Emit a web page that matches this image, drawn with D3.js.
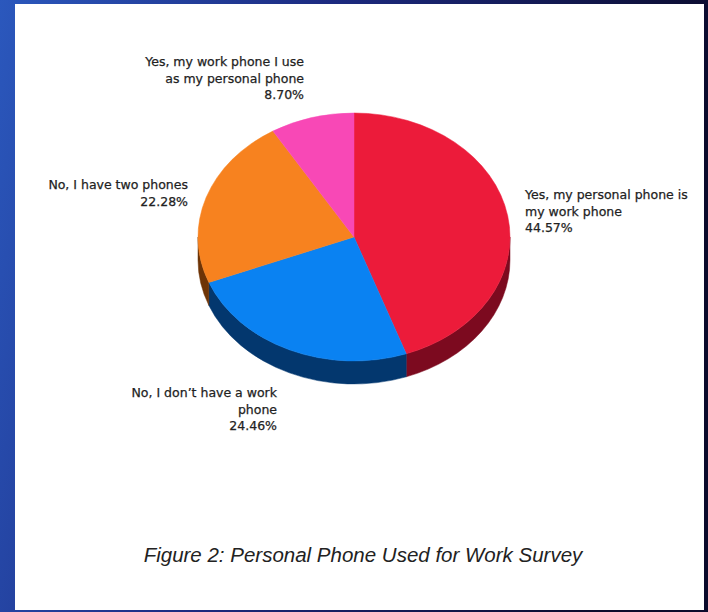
<!DOCTYPE html>
<html><head><meta charset="utf-8">
<script src="https://cdn.jsdelivr.net/npm/d3@7"></script>
<style>body{margin:0;padding:0;overflow:hidden}svg{display:block}</style>
</head><body>
<script>
const categories = ["Yes, my personal phone is my work phone", "No, I don't have a work phone", "No, I have two phones", "Yes, my work phone I use as my personal phone"];
const values = [44.57, 24.46, 22.28, 8.70];
const labelLines = [
  ["Yes, my personal phone is", "my work phone", "44.57%"],
  ["No, I don\u2019t have a work", "phone", "24.46%"],
  ["No, I have two phones", "22.28%"],
  ["Yes, my work phone I use", "as my personal phone", "8.70%"]
];
const topColors = ["#ec1b3a", "#0a82f2", "#f7821f", "#f848b6"];
const sideColors = ["#7c0a1f", "#03376e", "#6e3406", "#7a1d5c"];
const title = "Figure 2: Personal Phone Used for Work Survey";

const W = 708, H = 612;
const svg = d3.select("body").append("svg").attr("width", W).attr("height", H);
const defs = svg.append("defs");
const bg = defs.append("linearGradient").attr("id", "bg").attr("x1", 0).attr("y1", 0).attr("x2", 1).attr("y2", 0.2);
bg.append("stop").attr("offset", "0%").attr("stop-color", "#2b58bd");
bg.append("stop").attr("offset", "45%").attr("stop-color", "#1c2a80");
bg.append("stop").attr("offset", "100%").attr("stop-color", "#0b0b2c");
svg.append("rect").attr("width", W).attr("height", H).attr("fill", "url(#bg)");
svg.append("rect").attr("x", 15).attr("y", 4).attr("width", 689).attr("height", 606).attr("fill", "#ffffff");

const cx = 354, cy = 237, rx = 156, ry = 124, depth = 23;
const pie = d3.pie().sort(null).startAngle(0).endAngle(2 * Math.PI)(values);
const pt = (a, dy = 0) => [cx + rx * Math.sin(a), cy - ry * Math.cos(a) + dy];

const g = svg.append("g");
// side walls (front half: angles between PI/2 and 3PI/2)
pie.forEach((d, i) => {
  const a0 = Math.max(d.startAngle, Math.PI / 2), a1 = Math.min(d.endAngle, 3 * Math.PI / 2);
  if (a1 <= a0) return;
  const p0 = pt(a0), p1 = pt(a1), q1 = pt(a1, depth), q0 = pt(a0, depth);
  const large = (a1 - a0) > Math.PI ? 1 : 0;
  const path = `M${p0}A${rx},${ry} 0 ${large} 1 ${p1}L${q1}A${rx},${ry} 0 ${large} 0 ${q0}Z`;
  g.append("path").attr("d", path).attr("fill", sideColors[i]).attr("stroke", sideColors[i]).attr("stroke-width", 0.5);
});
// top faces
pie.forEach((d, i) => {
  const p0 = pt(d.startAngle), p1 = pt(d.endAngle);
  const large = (d.endAngle - d.startAngle) > Math.PI ? 1 : 0;
  const path = `M${cx},${cy}L${p0}A${rx},${ry} 0 ${large} 1 ${p1}Z`;
  g.append("path").attr("d", path).attr("fill", topColors[i]).attr("stroke", topColors[i]).attr("stroke-width", 0.5);
});

// labels
const labelPos = [
  {x: 525, y: 199, anchor: "start"},
  {x: 277, y: 397, anchor: "end"},
  {x: 188, y: 189, anchor: "end"},
  {x: 304, y: 66, anchor: "end"}
];
labelLines.forEach((lines, i) => {
  const t = svg.append("text").attr("x", labelPos[i].x).attr("y", labelPos[i].y)
    .attr("text-anchor", labelPos[i].anchor)
    .attr("font-family", "DejaVu Sans, sans-serif").attr("font-size", 12.5)
    .attr("fill", "#222").attr("stroke", "#222").attr("stroke-width", 0.25);
  lines.forEach((l, j) => t.append("tspan").attr("x", labelPos[i].x).attr("dy", j ? 16.5 : 0).text(l));
});

svg.append("text").attr("x", 363).attr("y", 562).attr("text-anchor", "middle")
  .attr("font-family", "Liberation Sans, Arial, sans-serif").attr("font-style", "italic")
  .attr("font-size", 20.5).attr("fill", "#222").text(title);
</script>
</body></html>
